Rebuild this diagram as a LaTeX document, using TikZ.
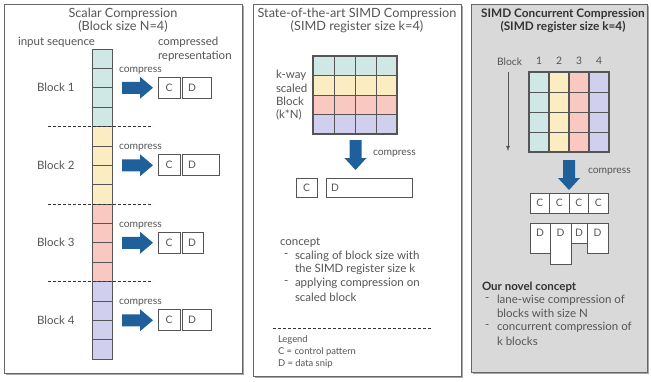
\documentclass[tikz,border=0pt]{standalone}
\usepackage{fontspec}
\setmainfont{Lato}
\usetikzlibrary{calc}
\definecolor{tealc}{HTML}{CFE8E6}
\definecolor{yellc}{HTML}{FBEDC1}
\definecolor{pinkc}{HTML}{F9C8C1}
\definecolor{lavc}{HTML}{D0D0EE}
\colorlet{blk0}{tealc}
\colorlet{blk1}{yellc}
\colorlet{blk2}{pinkc}
\colorlet{blk3}{lavc}
\definecolor{txt}{HTML}{555555}
\definecolor{darktxt}{HTML}{333333}
\definecolor{arrowblue}{HTML}{1F5F9A}
\definecolor{panelgray}{HTML}{D9D9D9}
\definecolor{frame}{HTML}{666666}
\definecolor{gridline}{HTML}{555555}
\begin{document}
\begin{tikzpicture}[x=1pt,y=-1pt,
  every node/.style={inner sep=0pt, outer sep=0pt, text=txt},
  panel/.style={draw=frame, line width=0.8pt},
  shadowbox/.style={fill=black!35},
  titlef/.style={font=\fontsize{12.7}{14}\selectfont},
  boldtitlef/.style={font=\fontsize{11.8}{14}\selectfont\bfseries, text=darktxt},
  bodyf/.style={font=\fontsize{11.5}{13}\selectfont},
  boldbodyf/.style={font=\fontsize{11.5}{13}\selectfont\bfseries, text=darktxt},
  smallf/.style={font=\fontsize{10.3}{12}\selectfont},
  legf/.style={font=\fontsize{9.4}{11}\selectfont},
  cell/.style={draw=gridline, line width=0.6pt},
  cbox/.style={draw=gridline, fill=white, line width=0.6pt},
  sep/.style={draw=darktxt, dashed, dash pattern=on 3pt off 2pt, line width=0.7pt},
  rarr/.pic={\fill[arrowblue] (0,-6)--(18,-6)--(18,-11)--(31,0)--(18,11)--(18,6)--(0,6)--cycle;},
  darr/.pic={\fill[arrowblue] (-6,0)--(6,0)--(6,18)--(11,18)--(0,30)--(-11,18)--(-6,18)--cycle;}
]
\useasboundingbox (0,0) rectangle (651,381);

% ---------------- Panel 1 ----------------
\fill[shadowbox] (6,6) rectangle (244,375);
\draw[panel, fill=white] (4,4) rectangle (242,373);
\node[titlef] (t1a) at (123,14) {Scalar Compression};
\node[titlef] (t1b) at (123,27) {(Block size N=4)};
\node[bodyf, anchor=west] (inseq) at (18,42) {input sequence};
\node[bodyf, anchor=west] (comprep1) at (158,42) {compressed};
\node[bodyf, anchor=west] (comprep2) at (158,56) {representation};
\foreach \i in {0,...,15} {
  \pgfmathtruncatemacro\b{int(\i/4)}
  \node[cell, fill=blk\b, minimum width=20pt, minimum height=19.375pt] (s\i) at (102,{58.6875+19.375*\i}) {};
}
\foreach \k in {1,2,3} {
  \coordinate (dl\k) at (48,{49+77.5*\k});
  \coordinate (dr\k) at (153,{49+77.5*\k});
  \draw[sep] (dl\k) -- (dr\k);
}
\foreach \b/\dw/\n in {0/29/1,1/37/2,2/21/3,3/29/4} {
  \pgfmathsetmacro\cy{87.75+77.5*\b}
  \node[bodyf, anchor=west] (bl\b) at (37,\cy) {Block \n};
  \node[smallf, anchor=west] (cp\b) at (119,\cy-17.5) {compress};
  \pic at (122,\cy) {rarr};
  \node[cbox, minimum width=22pt, minimum height=21pt, anchor=west] (cb\b) at (158,\cy) {};
  \node[smallf] (ct\b) at (cb\b.center) {C};
  \node[cbox, minimum width=\dw pt, minimum height=21pt, anchor=west] (db\b) at (182,\cy) {};
  \node[smallf] (dt\b) at (192,\cy) {D};
}

% ---------------- Panel 2 ----------------
\fill[shadowbox] (255,6) rectangle (463,378);
\draw[panel, fill=white] (253,4) rectangle (461,376);
\node[titlef] (t2a) at (357,14) {State-of-the-art SIMD Compression};
\node[titlef] (t2b) at (357,27) {(SIMD register size k=4)};
\node[bodyf, anchor=west] (kw1) at (276,75) {k-way};
\node[bodyf, anchor=west] (kw2) at (276,88) {scaled};
\node[bodyf, anchor=west] (kw3) at (276,101) {Block};
\node[bodyf, anchor=west] (kw4) at (276,115) {(k*N)};
\foreach \r in {0,...,3} {
  \foreach \c in {0,...,3} {
    \node[cell, fill=blk\r, minimum width=21pt, minimum height=19.5pt] (g\r\c) at ({323.5+21*\c},{65.75+19.5*\r}) {};
  }
}
\draw[draw=gridline, line width=1.8pt] (g00.north west) rectangle (g33.south east);
\pic at (355.5,140) {darr};
\node[smallf, anchor=west] (cp2) at (373,154) {compress};
\node[cbox, minimum width=21pt, minimum height=19pt] (c2) at (306.5,187.5) {};
\node[smallf] (c2t) at (c2.center) {C};
\node[cbox, minimum width=86pt, minimum height=19pt] (d2) at (369,187.5) {};
\node[smallf] (d2t) at (335,187.5) {D};
\node[bodyf, anchor=west] (con) at (280,243) {concept};
\node[bodyf, anchor=west] (cd1) at (284,256) {-};
\node[bodyf, anchor=west] (ci1) at (295,256) {scaling of block size with};
\node[bodyf, anchor=west] (ci1b) at (295,269) {the SIMD register size k};
\node[bodyf, anchor=west] (cd2) at (284,283) {-};
\node[bodyf, anchor=west] (ci2) at (295,283) {applying compression on};
\node[bodyf, anchor=west] (ci2b) at (295,297) {scaled block};
\coordinate (ll) at (273,328);
\coordinate (lr) at (432,328);
\draw[sep] (ll) -- (lr);
\node[legf, anchor=west] (lg1) at (278,340) {Legend};
\node[legf, anchor=west] (lg2) at (278,352) {C = control pattern};
\node[legf, anchor=west] (lg3) at (278,364) {D = data snip};

% ---------------- Panel 3 ----------------
\fill[shadowbox] (473,6) rectangle (649,374);
\draw[panel, fill=panelgray] (471,4) rectangle (647,372);
\node[boldtitlef] (t3a) at (563,14) {SIMD Concurrent Compression};
\node[boldtitlef] (t3b) at (563,27) {(SIMD register size k=4)};
\node[smallf, anchor=west] (blk) at (497,62) {Block};
\foreach \c/\n in {0/1,1/2,2/3,3/4} {
  \node[smallf] (num\c) at ({539+20*\c},61) {\n};
}
\coordinate (ax1) at (508,72);
\coordinate (ax2) at (508,151);
\draw[draw=gridline, line width=0.8pt, -latex] (ax1) -- (ax2);
\foreach \r in {0,...,3} {
  \foreach \c in {0,...,3} {
    \node[cell, fill=blk\c, minimum width=20pt, minimum height=20pt] (h\r\c) at ({539+20*\c},{82+20*\r}) {};
  }
}
\foreach \c in {0,...,3} {
  \draw[draw=gridline, line width=1.8pt] (h0\c.north west) rectangle (h3\c.south east);
}
\pic at (569,160) {darr};
\node[smallf, anchor=west] (cp3) at (588,172) {compress};
\foreach \c in {0,...,3} {
  \node[cbox, minimum width=19.5pt, minimum height=20pt] (cc\c) at ({539.75+19.5*\c},203) {};
  \node[smallf] (cct\c) at (cc\c.center) {C};
}
\node[cbox, minimum width=20pt, minimum height=30pt] (dd0) at (540,238) {};
\node[cbox, minimum width=21pt, minimum height=41pt] (dd1) at (560.5,243.5) {};
\node[cbox, minimum width=16pt, minimum height=20pt] (dd2) at (579,233) {};
\node[cbox, minimum width=21pt, minimum height=30pt] (dd3) at (597.5,238) {};
\foreach \c/\x in {0/540,1/560.5,2/579,3/597.5} {
  \node[smallf] (ddt\c) at (\x,233) {D};
}
\node[boldbodyf, anchor=west] (nov) at (482,287) {Our novel concept};
\node[bodyf, anchor=west] (nd1) at (485,300) {-};
\node[bodyf, anchor=west] (ni1) at (497,300) {lane-wise compression of};
\node[bodyf, anchor=west] (ni1b) at (497,313) {blocks with size N};
\node[bodyf, anchor=west] (nd2) at (485,327) {-};
\node[bodyf, anchor=west] (ni2) at (497,327) {concurrent compression of};
\node[bodyf, anchor=west] (ni2b) at (497,341) {k blocks};
\end{tikzpicture}
\end{document}
